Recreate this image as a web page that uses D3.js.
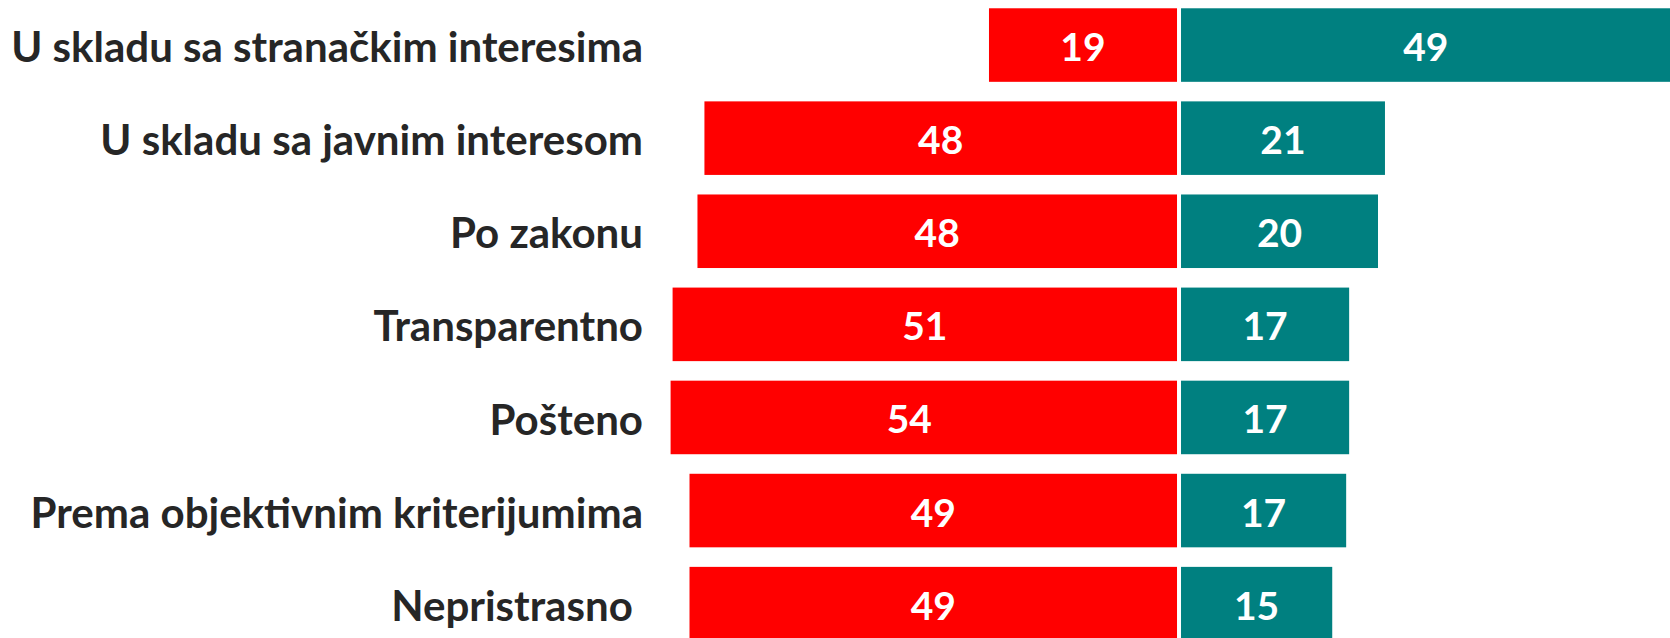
<!DOCTYPE html>
<html>
<head>
<meta charset="utf-8">
<script src="https://cdn.jsdelivr.net/npm/d3@7"></script>
<style>
  html, body { margin: 0; padding: 0; background: #fff; }
  svg { display: block; }
</style>
</head>
<body>
<svg id="chart" width="1670" height="638"></svg>
<script>
// ---- data ----
const categories = [
  "U skladu sa stranačkim interesima",
  "U skladu sa javnim interesom",
  "Po zakonu",
  "Transparentno",
  "Pošteno",
  "Prema objektivnim kriterijumima",
  "Nepristrasno "
];
// red (left) series, percent
const negativeValues = [19.1, 47.7, 48.4, 50.9, 54.0, 49.2, 49.2];
// teal (right) series, percent
const positiveValues = [49.4, 20.7, 20.0, 17.1, 17.1, 16.8, 15.4];
const xDomain = [-51.1, 49.7];

// ---- styles ----
const W = 1670, H = 638;
const RED = "#FF0000", TEAL = "#008080";
const FONT = "Lato, 'Open Sans', sans-serif";
const labelRight = 643;
const labelTargetWidth = 632;
const numSize = 39;

const svg = d3.select("#chart");

const x = d3.scaleLinear().domain(xDomain).range([670.6, 1673.5]);
const y = d3.scaleBand().domain(categories).range([-1.5, 650.2])
  .paddingInner(0.21).paddingOuter(0.105);

svg.append("defs").append("clipPath").attr("id", "plotclip")
  .append("rect")
  .attr("x", x.range()[0]).attr("y", 0)
  .attr("width", W - x.range()[0]).attr("height", H);

const plot = svg.append("g").attr("clip-path", "url(#plotclip)");
const gap = 2;

plot.selectAll("rect.neg").data(categories).join("rect")
  .attr("class", "neg")
  .attr("x", (d, i) => x(-negativeValues[i]))
  .attr("y", d => y(d))
  .attr("width", (d, i) => x(0) - gap - x(-negativeValues[i]))
  .attr("height", y.bandwidth())
  .attr("fill", RED);

plot.selectAll("rect.pos").data(categories).join("rect")
  .attr("class", "pos")
  .attr("x", x(0) + gap)
  .attr("y", d => y(d))
  .attr("width", (d, i) => x(positiveValues[i]) - x(0) - gap)
  .attr("height", y.bandwidth())
  .attr("fill", TEAL);

const fmt = v => String(Math.round(v));

svg.selectAll("text.negl").data(categories).join("text")
  .attr("class", "negl")
  .attr("x", (d, i) => (x(-negativeValues[i]) + x(0) - gap) / 2)
  .attr("y", d => y(d) + y.bandwidth() / 2 + numSize * 0.36 + 2)
  .attr("text-anchor", "middle")
  .attr("font-family", FONT).attr("font-weight", 700)
  .attr("font-size", numSize).attr("fill", "#fff")
  .text((d, i) => fmt(negativeValues[i]));

svg.selectAll("text.posl").data(categories).join("text")
  .attr("class", "posl")
  .attr("x", (d, i) => (x(0) + gap + x(positiveValues[i])) / 2)
  .attr("y", d => y(d) + y.bandwidth() / 2 + numSize * 0.36 + 2)
  .attr("text-anchor", "middle")
  .attr("font-family", FONT).attr("font-weight", 700)
  .attr("font-size", numSize).attr("fill", "#fff")
  .text((d, i) => fmt(positiveValues[i]));

// category labels
const cats = svg.selectAll("text.cat").data(categories).join("text")
  .attr("class", "cat")
  .attr("x", labelRight)
  .attr("text-anchor", "end")
  .attr("font-family", FONT).attr("font-weight", 700)
  .attr("font-size", 40)
  .attr("fill", "#262626")
  .style("white-space", "pre")
  .text(d => d);

// fit font size so the longest label matches the reference width
let maxW = 0;
cats.each(function() { maxW = Math.max(maxW, this.getComputedTextLength()); });
const catSize = 40 * labelTargetWidth / maxW;
cats.attr("font-size", catSize)
  .attr("y", d => y(d) + y.bandwidth() / 2 + catSize * 0.36 + 2);
</script>
</body>
</html>
